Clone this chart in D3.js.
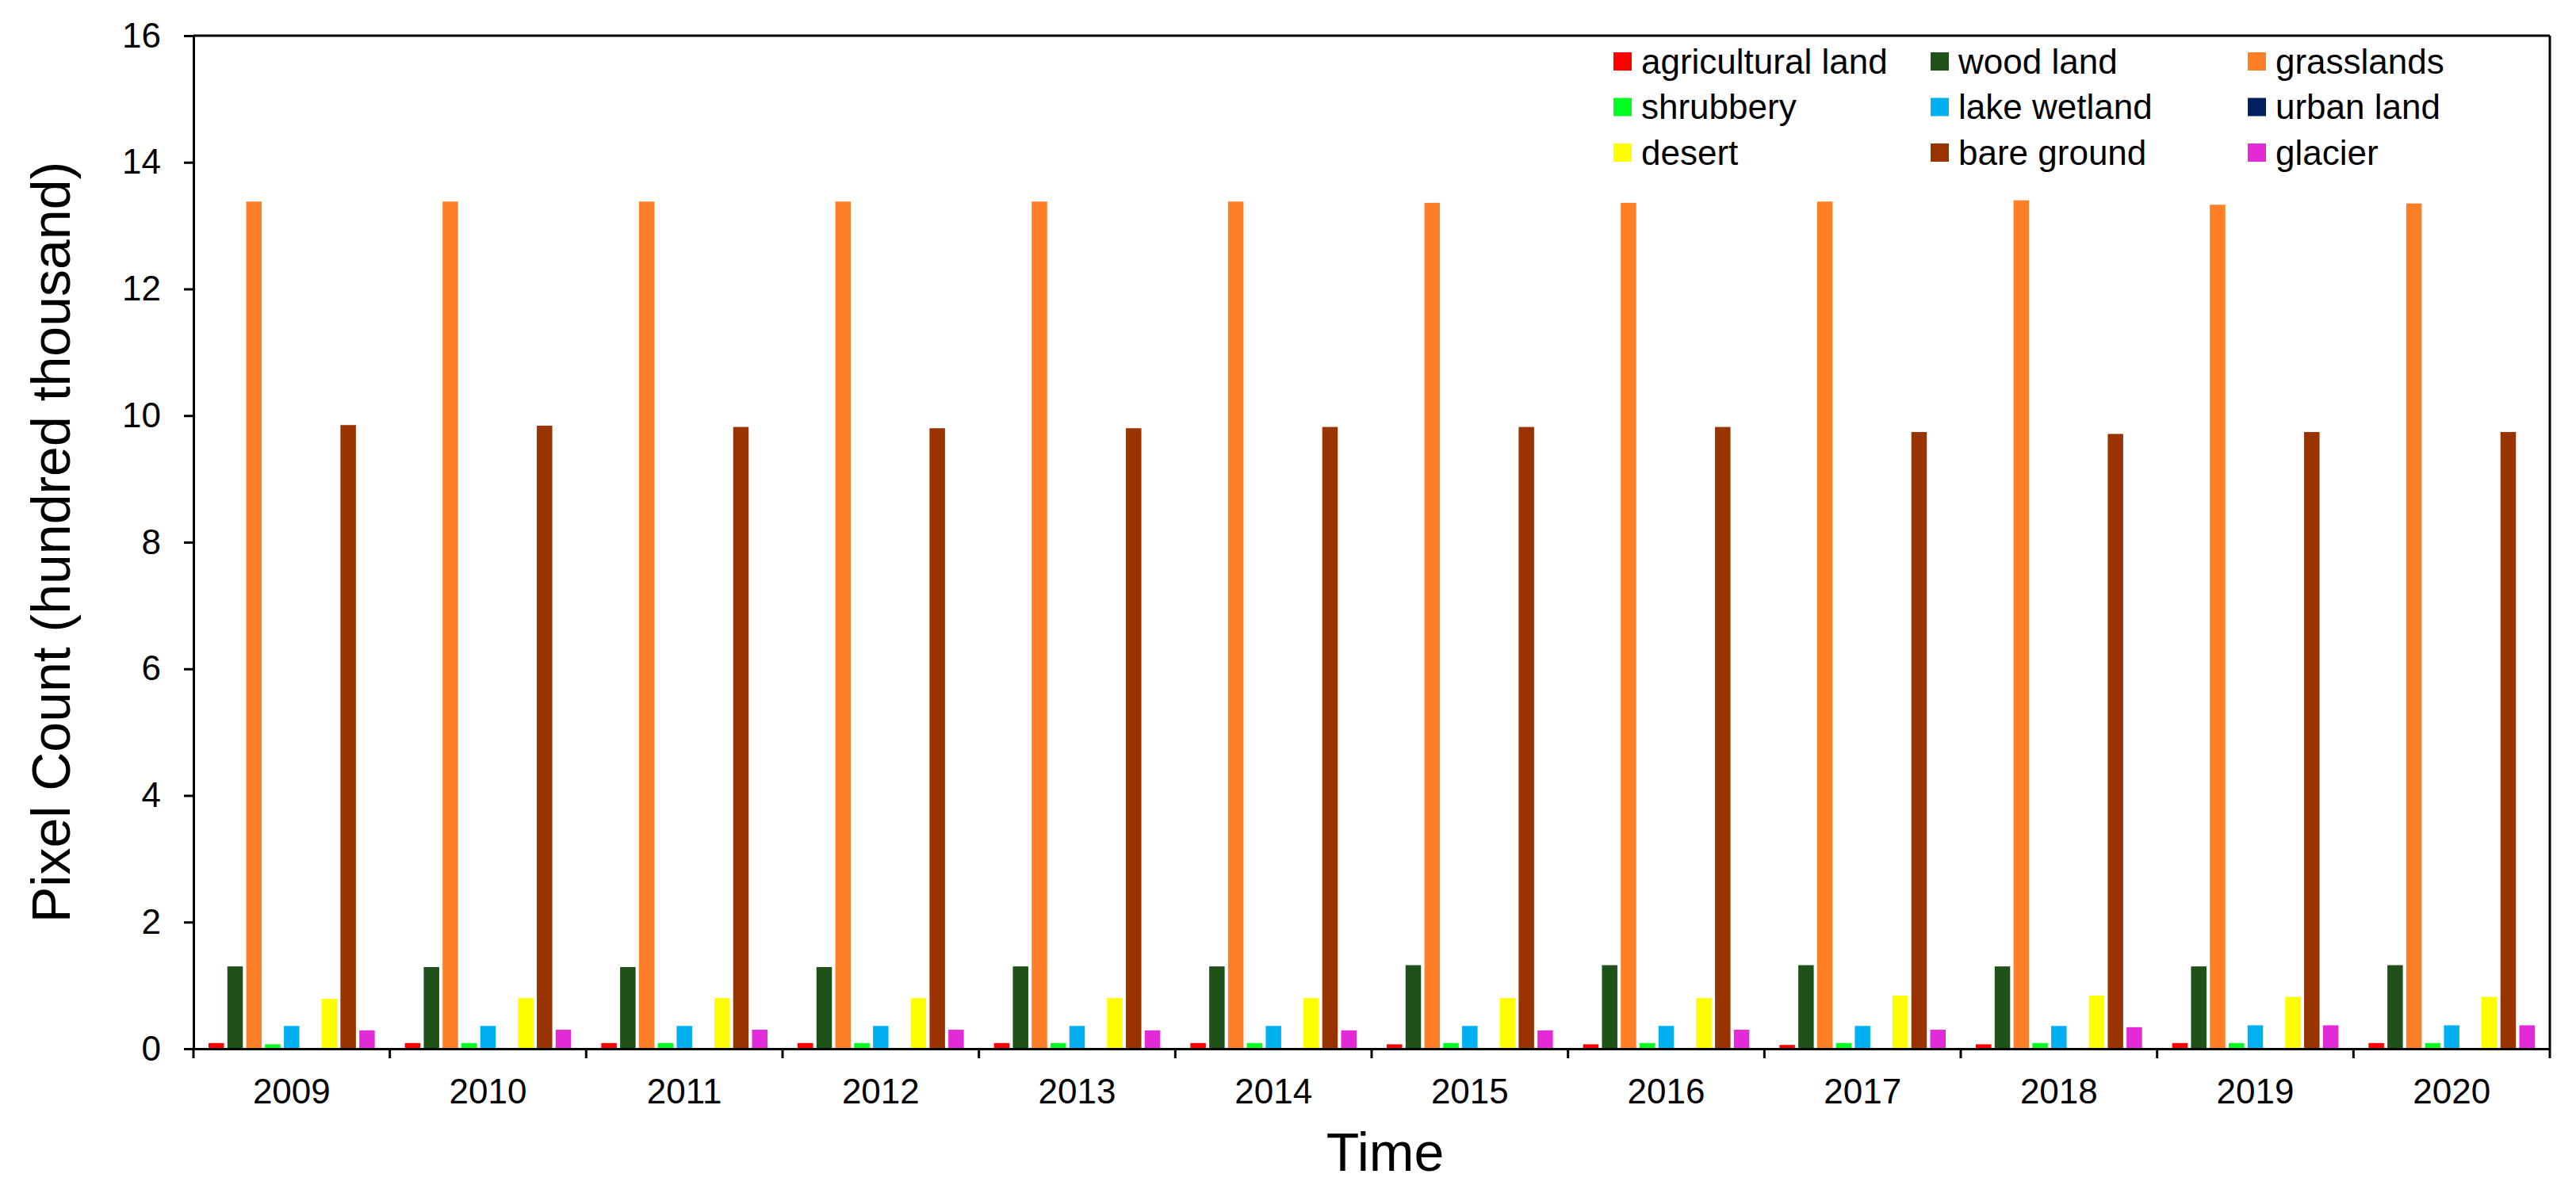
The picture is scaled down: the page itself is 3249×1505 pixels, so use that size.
<!DOCTYPE html>
<html>
<head>
<meta charset="utf-8">
<script src="https://cdn.jsdelivr.net/npm/d3@7"></script>
<style>
  body { margin: 0; background: white; }
  text { font-family: "Liberation Sans", Arial, sans-serif; }
</style>
</head>
<body>
<div id="chart"></div>
<script>
// Data (values in hundred thousand pixels)
const years = ["2009", "2010", "2011", "2012", "2013", "2014", "2015", "2016", "2017", "2018", "2019", "2020"];
const categories = ["agricultural land", "wood land", "grasslands", "shrubbery", "lake wetland", "urban land", "desert", "bare ground", "glacier"];

const agricultural = [0.09, 0.09, 0.09, 0.09, 0.09, 0.09, 0.07, 0.07, 0.06, 0.07, 0.09, 0.09];
const wood         = [1.30, 1.29, 1.29, 1.29, 1.30, 1.30, 1.32, 1.32, 1.32, 1.30, 1.30, 1.32];
const grass        = [13.38, 13.38, 13.38, 13.38, 13.38, 13.38, 13.36, 13.36, 13.38, 13.40, 13.33, 13.35];
const shrub        = [0.07, 0.09, 0.09, 0.09, 0.09, 0.09, 0.09, 0.09, 0.09, 0.09, 0.09, 0.09];
const lake         = [0.36, 0.36, 0.36, 0.36, 0.36, 0.36, 0.36, 0.36, 0.36, 0.36, 0.37, 0.37];
const urban        = [0, 0, 0, 0, 0, 0, 0, 0, 0, 0, 0, 0];
const desert       = [0.79, 0.80, 0.80, 0.80, 0.80, 0.80, 0.80, 0.80, 0.84, 0.84, 0.82, 0.82];
const bare         = [9.85, 9.84, 9.82, 9.80, 9.80, 9.82, 9.82, 9.82, 9.74, 9.71, 9.74, 9.74];
const glacier      = [0.29, 0.30, 0.30, 0.30, 0.29, 0.29, 0.29, 0.30, 0.30, 0.34, 0.37, 0.37];

const yTicks = [0, 2, 4, 6, 8, 10, 12, 14, 16];

const series = [agricultural, wood, grass, shrub, lake, urban, desert, bare, glacier];

// Flatten to one row per bar
let data = [];
years.forEach((year, i) => {
  categories.forEach((cat, j) => {
    data.push({Year: year, Type: cat, Value: series[j][i]});
  });
});

let width = 3249, height = 1505;
let margin = {top: 45, right: 33, bottom: 182, left: 244};

let svg = d3.select("#chart")
            .append("svg")
            .attr("width", width)
            .attr("height", height)
            .style("background", "white");

// Scales
const x0 = d3.scaleBand()
             .domain(years)
             .range([margin.left, width - margin.right]);

const x1 = d3.scaleBand()
             .domain(categories)
             .range([0, x0.bandwidth()])
             .paddingInner(0.18)
             .paddingOuter(0.8);

const y = d3.scaleLinear()
            .domain([0, 16])
            .range([height - margin.bottom, margin.top]);

const color = d3.scaleOrdinal()
                .domain(categories)
                .range(["#ff0000", "#1e5218", "#fe7f27", "#00ff21", "#00b0f0", "#002060", "#ffff00", "#993300", "#e22bd6"]);

// Bars
svg.selectAll(".bar")
   .data(data)
   .enter()
   .append("rect")
   .attr("class", "bar")
   .attr("x", d => x0(d.Year) + x1(d.Type))
   .attr("y", d => y(d.Value))
   .attr("width", x1.bandwidth())
   .attr("height", d => y(0) - y(d.Value))
   .attr("fill", d => color(d.Type));

// Y axis
let yaxis = svg.append("g")
   .attr("transform", `translate(${margin.left},0)`)
   .call(d3.axisLeft(y).tickValues(yTicks).tickSize(12).tickSizeOuter(0).tickPadding(29));

yaxis.selectAll("text").style("font-size", "44px").attr("fill", "#000");
yaxis.selectAll("line").attr("stroke", "#000").attr("stroke-width", 3);
yaxis.select(".domain").attr("stroke", "#000").attr("stroke-width", 3);

// X axis: labels centred in bands, ticks on band edges
let xaxis = svg.append("g")
   .attr("transform", `translate(0,${height - margin.bottom})`)
   .call(d3.axisBottom(x0).tickSize(0).tickPadding(38).tickSizeOuter(0));

xaxis.selectAll("text").style("font-size", "44px").attr("fill", "#000");
xaxis.select(".domain").attr("stroke", "#000").attr("stroke-width", 3);

const edges = years.map(d => x0(d)).concat([x0.range()[1]]);
svg.append("g")
   .selectAll("line")
   .data(edges)
   .enter()
   .append("line")
   .attr("x1", d => d)
   .attr("x2", d => d)
   .attr("y1", y(0))
   .attr("y2", y(0) + 12)
   .attr("stroke", "#000")
   .attr("stroke-width", 3);

// Frame: top and right
svg.append("line")
   .attr("x1", margin.left)
   .attr("x2", width - margin.right)
   .attr("y1", y(16))
   .attr("y2", y(16))
   .attr("stroke", "#000")
   .attr("stroke-width", 3);

svg.append("line")
   .attr("x1", width - margin.right)
   .attr("x2", width - margin.right)
   .attr("y1", y(16))
   .attr("y2", y(0))
   .attr("stroke", "#000")
   .attr("stroke-width", 3);

// Axis titles
svg.append("text")
   .attr("x", 1747)
   .attr("y", 1477)
   .attr("text-anchor", "middle")
   .style("font-size", "68px")
   .text("Time");

svg.append("text")
   .attr("x", -(y(0) + y(16)) / 2)
   .attr("y", 88)
   .attr("text-anchor", "middle")
   .attr("transform", "rotate(-90)")
   .style("font-size", "68px")
   .text("Pixel Count (hundred thousand)");

// Legend, 3 columns x 3 rows
const legend = svg.append("g");

categories.forEach((cat, i) => {
  let col = i % 3, row = Math.floor(i / 3);
  let lx = 2035 + col * 400, ly = 66 + row * 57.5;

  legend.append("rect")
        .attr("x", lx)
        .attr("y", ly)
        .attr("width", 23)
        .attr("height", 23)
        .attr("fill", color(cat));

  legend.append("text")
        .attr("x", lx + 35)
        .attr("y", ly + 11.5)
        .attr("dy", "0.35em")
        .style("font-size", "44px")
        .text(cat);
});
</script>
</body>
</html>
